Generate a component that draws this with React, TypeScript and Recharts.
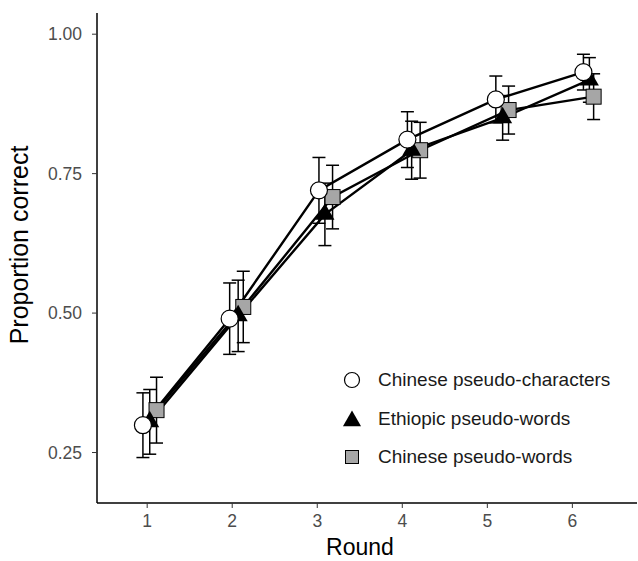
import React from "react";
import { LineChart, Line, XAxis, YAxis, ErrorBar, Label } from "recharts";

// Proportion correct by round, three stimulus types (dodged x positions as drawn).
const ROUND_TICKS = [1, 2, 3, 4, 5, 6];
const Y_TICKS = [0.25, 0.5, 0.75, 1.0];

const charX = [0.95, 1.97, 3.02, 4.06, 5.1, 6.13];
const charY = [0.299, 0.49, 0.72, 0.811, 0.883, 0.932];
const charErr = [0.058, 0.064, 0.059, 0.05, 0.042, 0.032];

const ethX = [1.03, 2.07, 3.09, 4.11, 5.18, 6.2];
const ethY = [0.305, 0.495, 0.677, 0.792, 0.85, 0.918];
const ethErr = [0.058, 0.064, 0.056, 0.052, 0.04, 0.04];

const wordX = [1.11, 2.13, 3.18, 4.21, 5.25, 6.25];
const wordY = [0.326, 0.511, 0.708, 0.792, 0.864, 0.888];
const wordErr = [0.059, 0.064, 0.057, 0.05, 0.043, 0.041];

const LABELS = ["Chinese pseudo-characters", "Ethiopic pseudo-words", "Chinese pseudo-words"];

const toRows = (xs: number[], ys: number[], es: number[]) =>
  xs.map((x, i) => ({ x, y: ys[i], err: es[i] }));

const charData = toRows(charX, charY, charErr);
const ethData = toRows(ethX, ethY, ethErr);
const wordData = toRows(wordX, wordY, wordErr);

const FONT = "'Liberation Sans', Arial, sans-serif";

const Circle = ({ cx, cy, r = 8.5 }: any) => (
  <circle cx={cx} cy={cy} r={r} fill="#ffffff" stroke="#000" strokeWidth={1.2} />
);
const Triangle = ({ cx, cy, s = 1 }: any) => {
  const r = 11 * s;
  const xc = r * 0.866;
  return (
    <polygon
      points={`${cx},${cy - r} ${cx + xc},${cy + r / 2} ${cx - xc},${cy + r / 2}`}
      fill="#000"
    />
  );
};
const Square = ({ cx, cy, h = 7.5 }: any) => (
  <rect x={cx - h} y={cy - h} width={h * 2} height={h * 2} fill="#a6a6a6" stroke="#000" strokeWidth={1} />
);

const dotOf = (Shape: any) => (p: any) =>
  p.cx == null ? <g key={p.index} /> : <Shape key={p.index} cx={p.cx} cy={p.cy} />;

function LegendBox() {
  const markers = [
    <Circle cx={12} cy={12} r={7.5} />,
    <Triangle cx={12} cy={14} s={0.95} />,
    <Square cx={12} cy={12} h={6.5} />,
  ];
  return (
    <div
      style={{
        position: "absolute",
        left: 340,
        top: 361,
        fontFamily: FONT,
        fontSize: 19,
        color: "#1a1a1a",
        whiteSpace: "nowrap",
      }}
    >
      {LABELS.map((l, i) => (
        <div key={l} style={{ display: "flex", alignItems: "center", height: 38.5 }}>
          <svg width={24} height={24} style={{ marginRight: 14 }}>
            {markers[i]}
          </svg>
          <span>{l}</span>
        </div>
      ))}
    </div>
  );
}

export default function App() {
  return (
    <div style={{ position: "absolute", left: 0, top: 0, width: 638, height: 561 }}>
      <LineChart width={638} height={561} margin={{ top: 13, right: 1, left: 0, bottom: 0 }}>
        <XAxis
          type="number"
          dataKey="x"
          domain={[0.41, 6.76]}
          ticks={ROUND_TICKS}
          allowDataOverflow
          height={58}
          tickSize={5}
          tickMargin={7}
          tick={{ fill: "#4d4d4d", fontSize: 17.5, fontFamily: FONT }}
          axisLine={{ stroke: "#000", strokeWidth: 1.5 }}
          tickLine={{ stroke: "#333" }}
        >
          <Label
            content={() => (
              <text x={360} y={555} textAnchor="middle" fontSize={23} fontFamily={FONT} fill="#000">
                Round
              </text>
            )}
          />
        </XAxis>
        <YAxis
          type="number"
          domain={[0.1595, 1.038]}
          ticks={Y_TICKS}
          allowDataOverflow
          width={97}
          tickSize={5}
          tickMargin={10}
          tickFormatter={(v: number) => v.toFixed(2)}
          tick={{ fill: "#4d4d4d", fontSize: 17.5, fontFamily: FONT }}
          axisLine={{ stroke: "#000", strokeWidth: 1.5 }}
          tickLine={{ stroke: "#333" }}
        >
          <Label
            content={() => (
              <text
                x={28}
                y={245}
                transform="rotate(-90 28 245)"
                textAnchor="middle"
                fontSize={25}
                fontFamily={FONT}
                fill="#000"
              >
                Proportion correct
              </text>
            )}
          />
        </YAxis>

        {/* error bars */}
        {[charData, ethData, wordData].map((d, i) => (
          <Line key={"e" + i} data={d} dataKey="y" stroke="none" dot={false} isAnimationActive={false} legendType="none">
            <ErrorBar dataKey="err" direction="y" width={6.5} stroke="#000" strokeWidth={1.5} />
          </Line>
        ))}

        {/* connecting lines */}
        {[charData, ethData, wordData].map((d, i) => (
          <Line key={"l" + i} data={d} dataKey="y" stroke="#000" strokeWidth={2.4} dot={false} isAnimationActive={false} legendType="none" />
        ))}

        {/* points: squares below, circles on top */}
        <Line data={wordData} dataKey="y" stroke="none" dot={dotOf(Square)} activeDot={false} isAnimationActive={false} legendType="none" />
        <Line data={ethData} dataKey="y" stroke="none" dot={dotOf(Triangle)} activeDot={false} isAnimationActive={false} legendType="none" />
        <Line data={charData} dataKey="y" stroke="none" dot={dotOf(Circle)} activeDot={false} isAnimationActive={false} legendType="none" />
      </LineChart>
      <LegendBox />
    </div>
  );
}
